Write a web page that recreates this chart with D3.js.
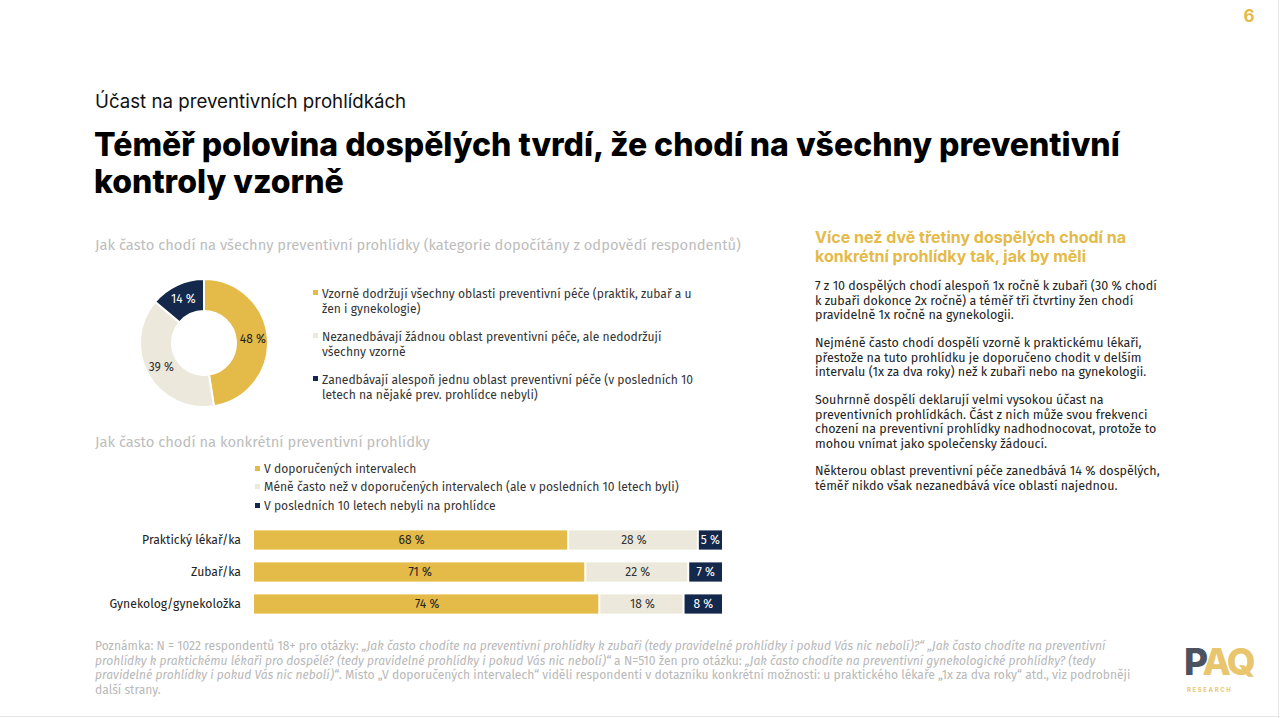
<!DOCTYPE html>
<html><head><meta charset="utf-8">
<script src="https://cdn.jsdelivr.net/npm/d3@7"></script>
<style>
html,body{margin:0;padding:0;background:#fff;}
svg{display:block;}
</style></head>
<body>
<svg id="c" width="1280" height="718"></svg>
<script>
// ---------- DATA ----------
const donutLabels = [
  "Vzorně dodržují všechny oblasti preventivní péče (praktik, zubař a u|žen i gynekologie)",
  "Nezanedbávají žádnou oblast preventivní péče, ale nedodržují|všechny vzorně",
  "Zanedbávají alespoň jednu oblast preventivní péče (v posledních 10|letech na nějaké prev. prohlídce nebyli)"
];
const donutValues = [48, 39, 14];

const barCategories = ["Praktický lékař/ka", "Zubař/ka", "Gynekolog/gynekoložka"];
const barSeriesNames = [
  "V doporučených intervalech",
  "Méně často než v doporučených intervalech (ale v posledních 10 letech byli)",
  "V posledních 10 letech nebyli na prohlídce"
];
const seriesRecommended = [68, 71, 74];
const seriesLessOften = [28, 22, 18];
const seriesNever = [5, 7, 8];

const colors = ["#E4BA48", "#ECE8DC", "#14284B"];
const labelColors = ["#222", "#333", "#fff"];

// ---------- DRAW ----------
const svg = d3.select("#c");
const bodyFont = "'Fira Sans', 'Roboto', sans-serif";

// frame lines
svg.append("line").attr("x1",1278.5).attr("x2",1278.5).attr("y1",0).attr("y2",718).attr("stroke","#e6e6e6");
svg.append("line").attr("x1",0).attr("x2",1280).attr("y1",716.5).attr("y2",716.5).attr("stroke","#e6e6e6");

// page number
svg.append("text").attr("x",1249).attr("y",22).attr("text-anchor","middle")
  .attr("font-family","Inter, sans-serif").attr("font-weight",700).attr("font-size",17)
  .attr("fill","#E4BA48").text("6");

// headings
svg.append("text").attr("x",95).attr("y",108).attr("font-family","Inter, sans-serif")
  .attr("font-size",18.7).attr("fill","#111").text("Účast na preventivních prohlídkách");
const ttl = svg.append("text").attr("font-family","Inter, sans-serif").attr("font-weight",800)
  .attr("font-size",32).attr("fill","#000");
ttl.append("tspan").attr("x",94).attr("y",156).text("Téměř polovina dospělých tvrdí, že chodí na všechny preventivní");
ttl.append("tspan").attr("x",94).attr("y",193).text("kontroly vzorně");

// section subtitles
svg.append("text").attr("x",95).attr("y",250).attr("font-family",bodyFont).attr("font-size",14.73)
  .attr("fill","#bdbdbd").text("Jak často chodí na všechny preventivní prohlídky (kategorie dopočítány z odpovědí respondentů)");
svg.append("text").attr("x",95).attr("y",447).attr("font-family",bodyFont).attr("font-size",14.73)
  .attr("fill","#bdbdbd").text("Jak často chodí na konkrétní preventivní prohlídky");

// ---------- DONUT ----------
const cx = 204, cy = 343, rOut = 64, rIn = 32;
const pie = d3.pie().sort(null).value(d => d)(donutValues);
const arc = d3.arc().innerRadius(rIn).outerRadius(rOut);
const labelArc = d3.arc().innerRadius(49).outerRadius(49);
const dg = svg.append("g").attr("transform",`translate(${cx},${cy})`);
dg.selectAll("path").data(pie).join("path")
  .attr("d",arc).attr("fill",(d,i)=>colors[i]).attr("stroke","#fff").attr("stroke-width",2);
dg.selectAll("text").data(pie).join("text")
  .attr("transform",d=>`translate(${labelArc.centroid(d)})`)
  .attr("text-anchor","middle").attr("dy","0.35em")
  .attr("font-family",bodyFont).attr("font-size",12)
  .attr("fill",(d,i)=>labelColors[i]).text(d=>d.data+" %");

// donut legend
const legY = [294, 337, 380];
donutLabels.forEach((lbl,i)=>{
  svg.append("rect").attr("x",313).attr("y",legY[i]-4).attr("width",5).attr("height",5).attr("fill",colors[i]);
  const t = svg.append("text").attr("font-family",bodyFont).attr("font-size",12.1).attr("fill","#333");
  lbl.split("|").forEach((ln,j)=>{
    t.append("tspan").attr("x",322).attr("y",legY[i]+4+j*15).text(ln);
  });
});

// ---------- BARS ----------
const barLegY = [469, 487, 506];
barSeriesNames.forEach((n,i)=>{
  svg.append("rect").attr("x",255).attr("y",barLegY[i]-3).attr("width",5).attr("height",5).attr("fill",colors[i]);
  svg.append("text").attr("x",264).attr("y",barLegY[i]+4).attr("font-family",bodyFont)
    .attr("font-size",12.1).attr("fill","#333").text(n);
});

const rows = barCategories.map((c,i)=>({cat:c, vals:[seriesRecommended[i], seriesLessOften[i], seriesNever[i]]}));
const y = d3.scaleBand().domain(barCategories).range([524,620]).paddingInner(0.4).paddingOuter(0.2);
const x = d3.scaleLinear().domain([0,100]).range([254,722]);

rows.forEach(r=>{
  const total = d3.sum(r.vals);
  let acc = 0;
  r.vals.forEach((v,i)=>{
    const x0 = x(acc/total*100), x1 = x((acc+v)/total*100);
    svg.append("rect").attr("x",x0).attr("y",y(r.cat)).attr("width",x1-x0-(i<2?2:0))
      .attr("height",y.bandwidth()).attr("fill",colors[i]);
    svg.append("text").attr("x",(x0+x1)/2).attr("y",y(r.cat)+y.bandwidth()/2).attr("dy","0.35em")
      .attr("text-anchor","middle").attr("font-family",bodyFont).attr("font-size",12)
      .attr("fill",labelColors[i]).text(v+" %");
    acc += v;
  });
  svg.append("text").attr("x",241).attr("y",y(r.cat)+y.bandwidth()/2).attr("dy","0.35em")
    .attr("text-anchor","end").attr("font-family",bodyFont).attr("font-size",12.2)
    .attr("fill","#222").text(r.cat);
});

// ---------- RIGHT PANEL ----------
const rh = svg.append("text").attr("font-family","Inter, sans-serif").attr("font-weight",700)
  .attr("font-size",16).attr("fill","#E4BA48");
rh.append("tspan").attr("x",815).attr("y",243).text("Více než dvě třetiny dospělých chodí na");
rh.append("tspan").attr("x",815).attr("y",262).text("konkrétní prohlídky tak, jak by měli");

const paras = [
  ["7 z 10 dospělých chodí alespoň 1x ročně k zubaři (30 % chodí","k zubaři dokonce 2x ročně) a téměř tři čtvrtiny žen chodí","pravidelně 1x ročně na gynekologii."],
  ["Nejméně často chodí dospělí vzorně k praktickému lékaři,","přestože na tuto prohlídku je doporučeno chodit v delším","intervalu (1x za dva roky) než k zubaři nebo na gynekologii."],
  ["Souhrnně dospělí deklarují velmi vysokou účast na","preventivních prohlídkách. Část z nich může svou frekvenci","chození na preventivní prohlídky nadhodnocovat, protože to","mohou vnímat jako společensky žádoucí."],
  ["Některou oblast preventivní péče zanedbává 14 % dospělých,","téměř nikdo však nezanedbává více oblastí najednou."]
];
const paraY = [290, 347, 404, 475];
paras.forEach((p,i)=>{
  const t = svg.append("text").attr("font-family",bodyFont).attr("font-size",12.5).attr("fill","#222");
  p.forEach((ln,j)=>t.append("tspan").attr("x",815).attr("y",paraY[i]+j*14.6).text(ln));
});

// ---------- FOOTNOTE ----------
const foot = [
  [["n","Poznámka: N = 1022 respondentů 18+ pro otázky: "],["i","„Jak často chodíte na preventivní prohlídky k zubaři (tedy pravidelné prohlídky i pokud Vás nic nebolí)?“ „Jak často chodíte na preventivní"]],
  [["i","prohlídky k praktickému lékaři pro dospělé? (tedy pravidelné prohlídky i pokud Vás nic nebolí)“"],["n"," a N=510 žen pro otázku: "],["i","„Jak často chodíte na preventivní gynekologické prohlídky? (tedy"]],
  [["i","pravidelné prohlídky i pokud Vás nic nebolí)“"],["n",". Místo „V doporučených intervalech“ viděli respondenti v dotazníku konkrétní možnosti: u praktického lékaře „1x za dva roky“ atd., viz podrobněji"]],
  [["n","další strany."]]
];
foot.forEach((ln,j)=>{
  const t = svg.append("text").attr("x",95).attr("y",650+j*14.6).attr("font-family",bodyFont)
    .attr("font-size",12.08).attr("fill","#b8b8b8");
  ln.forEach(([s,txt])=>t.append("tspan").attr("font-style",s==="i"?"italic":"normal").text(txt));
});

// ---------- LOGO ----------
const lg = svg.append("text").attr("x",1184).attr("y",675).attr("font-family","Inter, sans-serif")
  .attr("font-weight",800).attr("font-size",37).attr("letter-spacing","-2.5");
lg.append("tspan").attr("fill","#4B5260").text("P");
lg.append("tspan").attr("fill","#E9C66E").text("AQ");
svg.append("text").attr("x",1187).attr("y",692).attr("font-family","Inter, sans-serif").attr("font-weight",700)
  .attr("font-size",6).attr("letter-spacing","1.6").attr("fill","#E9C66E").text("RESEARCH");
</script>
</body></html>
